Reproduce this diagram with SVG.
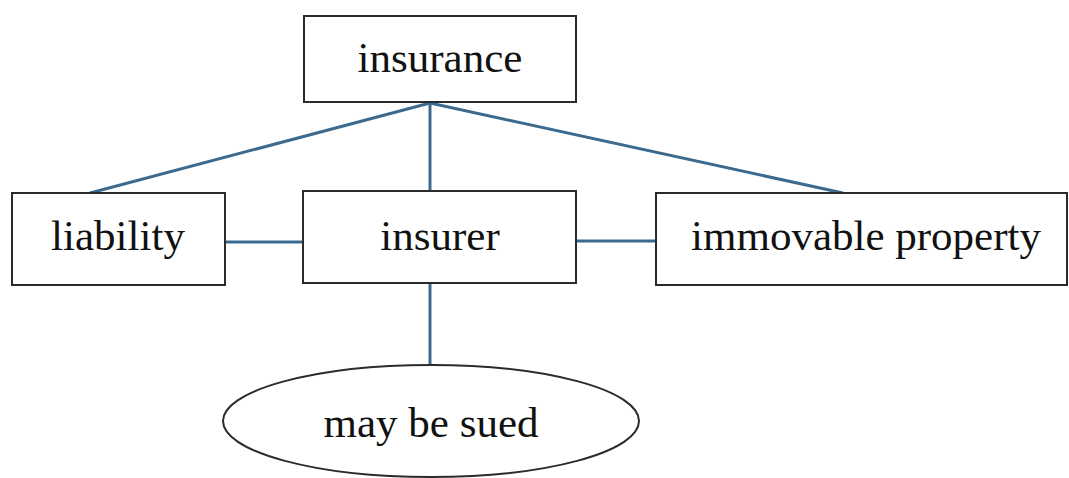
<svg xmlns="http://www.w3.org/2000/svg" width="1069" height="478" viewBox="0 0 1069 478">
<style>
.box{fill:#fff;stroke:#2b2b2b;stroke-width:2}
.lbl{font-family:"Liberation Serif",serif;font-size:43px;fill:#111;text-anchor:middle}
.conn{stroke:#3b6a8e;stroke-width:3;fill:none}
</style>
<rect width="1069" height="478" fill="#fff"/>
<g id="connectors">
<line class="conn" x1="430" y1="103" x2="90" y2="193"/>
<line class="conn" x1="430" y1="103" x2="430" y2="191"/>
<line class="conn" x1="430" y1="103" x2="843" y2="193"/>
<line class="conn" x1="225" y1="242" x2="303" y2="242"/>
<line class="conn" x1="576" y1="241" x2="656" y2="241"/>
<line class="conn" x1="430" y1="283" x2="430" y2="365"/>
</g>
<g id="insurance">
<rect class="box" x="304" y="16" width="272" height="86"/>
<text class="lbl" x="440" y="72">insurance</text>
</g>
<g id="liability">
<rect class="box" x="12" y="193" width="213" height="92"/>
<text class="lbl" x="118" y="250">liability</text>
</g>
<g id="insurer">
<rect class="box" x="303" y="191" width="273" height="92"/>
<text class="lbl" x="440" y="250">insurer</text>
</g>
<g id="immovable-property">
<rect class="box" x="656" y="193" width="411" height="92"/>
<text class="lbl" x="866" y="250">immovable property</text>
</g>
<g id="may-be-sued">
<ellipse class="box" cx="431" cy="421" rx="208" ry="56"/>
<text class="lbl" x="431" y="437">may be sued</text>
</g>
</svg>
